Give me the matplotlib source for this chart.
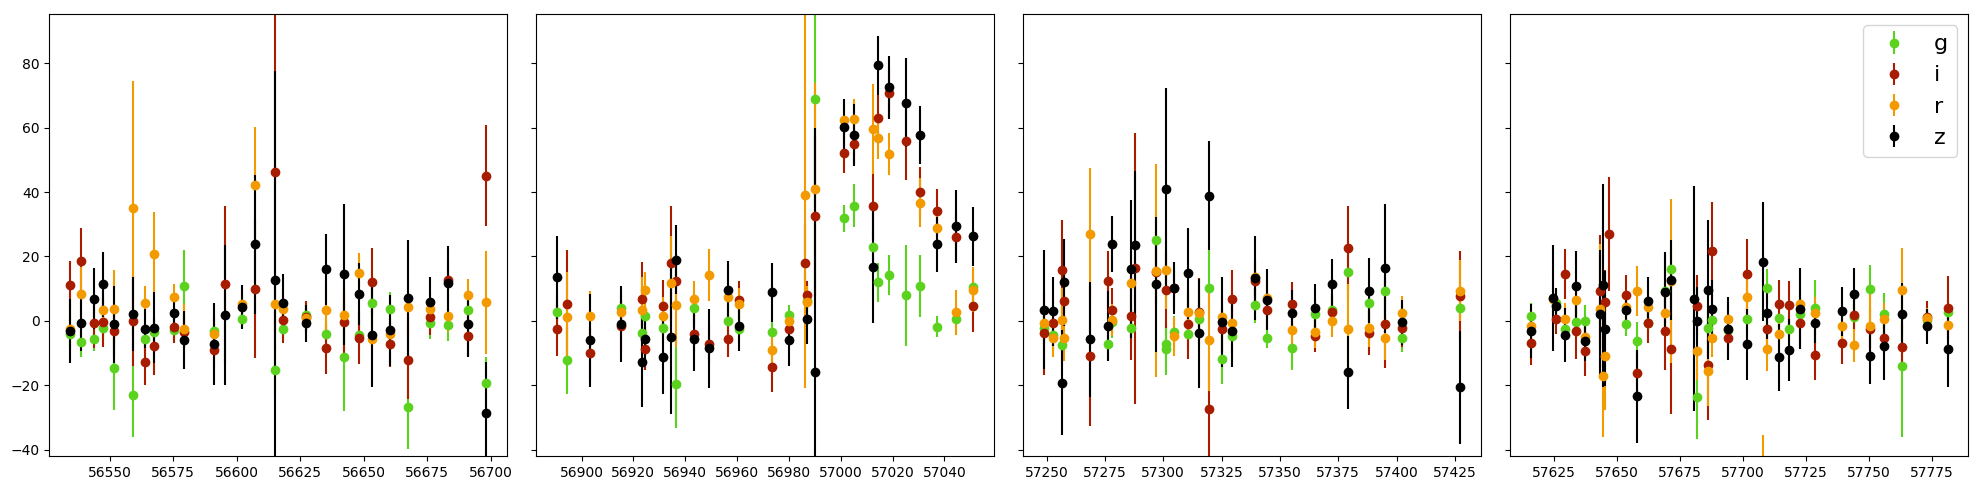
import matplotlib
matplotlib.use("Agg")
import matplotlib.pyplot as plt
import numpy as np

bands = ["g", "i", "r", "z"]
colors = {"g": "#5ad21e", "i": "#a81c00", "r": "#f39a00", "z": "#000000"}

# ---------------- g band ----------------
g_mjd = [56534.5, 56538.9, 56543.7, 56547.6, 56551.6, 56559.4, 56563.8, 56567.7, 56575.4, 56579.4,
         56591.3, 56602.2, 56615.1, 56618.4, 56627.3, 56635.2, 56642.2, 56648.2, 56653.4, 56660.4,
         56667.3, 56676.1, 56683.3, 56691.2, 56698.3,
         56890.6, 56894.3, 56915.2, 56923.5, 56924.6, 56931.6, 56936.5, 56943.5, 56956.4, 56960.6,
         56973.3, 56980.1, 56987.1, 56990.1, 57001.3, 57005.3, 57012.3, 57014.2, 57018.5, 57025.3,
         57030.5, 57037.3, 57044.3, 57051.2,
         57249.0, 57252.8, 57256.6, 57276.5, 57278.2, 57286.2, 57296.8, 57301.0, 57301.3, 57304.6,
         57310.5, 57315.3, 57319.6, 57325.3, 57329.6, 57339.3, 57344.5, 57355.2, 57365.1, 57372.4,
         57379.3, 57388.3, 57395.2, 57402.5, 57427.4,
         57616.0, 57625.9, 57629.5, 57633.9, 57637.4, 57653.4, 57657.8, 57662.4, 57669.2, 57671.6,
         57681.6, 57686.2, 57687.6, 57694.2, 57701.5, 57709.4, 57714.4, 57718.4, 57722.4, 57728.4,
         57744.2, 57750.3, 57756.1, 57763.2, 57773.1, 57781.1]
g_flux = [-4.2, -6.7, -5.8, -2.1, -14.8, -23.2, -5.8, -3.4, -3.0, 10.7,
          -3.2, 0.7, -15.4, -2.7, 1.8, -4.2, -11.4, -4.5, 5.4, 3.8,
          -26.8, -0.8, -1.3, 3.5, -19.2,
          2.7, -12.3, 4.0, -3.9, 1.4, -2.1, -19.5, 4.1, -0.2, -2.7,
          -3.6, 1.8, 6.1, 68.8, 31.8, 35.8, 22.8, 11.9, 14.2, 7.9,
          10.7, -1.8, 0.4, 10.6,
          -2.1, -4.5, -7.6, -7.2, -0.3, -2.1, 25.1, -7.2, -8.9, -3.4,
          -4.1, 0.4, 10.1, -12.0, -4.8, 4.8, -5.2, -8.3, 2.2, 3.3,
          15.0, 5.4, 9.1, -5.2, 4.1,
          1.4, 5.4, -2.6, -0.5, -0.1, -1.0, -6.3, -0.8, 9.3, 16.0,
          -23.8, -2.1, 0.2, -2.9, 0.4, 10.2, 1.0, -2.4, 2.1, 4.1,
          1.1, 9.8, 2.2, -14.2, 0.2, 2.6]
g_err = [5, 4.5, 3.5, 4, 13, 13, 5, 4, 4, 11.2,
         5, 3, 8, 4, 4, 5, 16.5, 5, 6, 5,
         13, 5, 5, 4, 8,
         6, 10.4, 5, 6, 5, 5, 13.7, 5, 5, 4,
         4, 3, 5, 30, 4.3, 6.8, 5, 6, 6.2, 15.7,
         9.6, 3.3, 4, 5,
         5, 5, 6, 5, 5, 5, 8, 5, 8, 5,
         5, 5, 12, 7.5, 5, 5.6, 3.4, 7, 5, 5,
         8, 5, 6, 4.5, 5,
         4, 4, 4, 5, 5, 3.7, 6, 4, 10, 6,
         12.8, 5, 5, 4, 4, 6, 4, 4, 4, 8.5,
         4, 7.4, 6.3, 22, 3, 4]

# ---------------- i band ----------------
i_mjd = [56534.5, 56538.9, 56543.7, 56547.6, 56551.6, 56559.4, 56563.8, 56567.7, 56575.4, 56579.4,
         56591.3, 56595.6, 56607.4, 56615.1, 56618.4, 56627.3, 56635.2, 56642.2, 56648.2, 56653.4,
         56660.4, 56667.3, 56676.1, 56683.3, 56691.2, 56698.3,
         56890.6, 56894.3, 56903.4, 56915.2, 56923.5, 56924.6, 56931.6, 56934.6, 56936.5, 56943.5,
         56949.3, 56956.4, 56960.6, 56973.3, 56980.1, 56986.2, 56987.1, 56990.1, 57001.3, 57005.3,
         57012.3, 57014.2, 57018.5, 57025.3, 57030.5, 57037.3, 57044.3, 57051.2,
         57249.0, 57252.8, 57256.6, 57257.3, 57268.5, 57276.5, 57278.2, 57286.2, 57288.0, 57296.8,
         57301.0, 57304.6, 57310.5, 57315.3, 57319.6, 57325.3, 57329.6, 57339.3, 57344.5, 57355.2,
         57365.1, 57372.4, 57379.3, 57388.3, 57395.2, 57402.5, 57427.4,
         57616.0, 57625.9, 57629.5, 57633.9, 57637.4, 57643.4, 57645.4, 57646.7, 57653.4, 57657.8,
         57662.4, 57669.2, 57671.6, 57681.6, 57686.2, 57687.6, 57694.2, 57701.5, 57709.4, 57714.4,
         57718.4, 57722.4, 57728.4, 57739.2, 57744.2, 57750.3, 57756.1, 57763.2, 57773.1, 57781.1]
i_flux = [11.1, 18.7, -0.8, -0.5, -3.1, 0.0, -12.9, -7.7, -2.0, -3.6,
          -9.0, 11.3, 10.0, 46.1, 0.2, 1.2, -8.6, -0.5, -5.3, 11.9,
          -7.3, -12.3, 1.1, 12.6, -4.8, 45.1,
          -2.7, 5.1, -10.1, -1.7, 6.7, -8.8, 4.6, 17.8, 12.3, -4.1,
          -7.2, -5.8, 6.4, -14.5, -2.6, 18.1, 8.0, 32.4, 52.0, 54.8,
          35.8, 63.1, 70.9, 55.7, 39.9, 34.0, 25.9, 4.5,
          -3.9, -0.8, 15.7, 6.3, -10.8, 12.5, 3.2, 1.4, 16.3, 15.2,
          9.7, 10.2, -1.0, 2.8, -27.5, -2.7, 6.9, 12.3, 3.5, 5.1,
          -4.8, 2.6, 22.5, -3.9, -1.0, -2.1, 7.7,
          -7.0, 0.7, 14.5, -3.3, -9.4, 9.2, 5.7, 26.9, 8.0, -16.3,
          -0.8, -3.2, -8.9, 4.6, -13.8, 21.8, -5.5, 14.5, -2.7, 5.2,
          4.9, -0.8, -10.5, -7.0, 1.8, -2.4, -5.2, -8.1, 1.1, 4.1]
i_err = [7.4, 10, 7.5, 7.5, 8, 14, 7, 9, 5, 5,
         6, 24.3, 21.5, 55, 7, 5, 7.8, 10, 8, 10.6,
         7, 12, 5.5, 6, 6, 15.6,
         8.3, 17, 8, 8, 11.5, 6.5, 8, 18, 8, 6,
         6, 5.4, 6, 7.6, 4, 12, 4.5, 25, 6, 6,
         10, 7, 8, 12, 8, 7, 8, 8,
         13, 7, 15.5, 8, 22, 9.2, 7, 13.7, 42, 10,
         12, 6, 11, 10.6, 16, 7, 9, 6, 6, 6.8,
         5, 5, 13, 6.8, 13.6, 6, 14,
         6.7, 4.7, 7.7, 8.5, 7.8, 17.4, 10, 17.8, 6.3, 6,
         6, 12, 20, 9.6, 17, 15, 6, 10.8, 6, 7.4,
         7.4, 7.8, 7.8, 6.5, 5, 6, 5, 7, 5, 9.7]

# ---------------- r band ----------------
r_mjd = [56534.5, 56538.9, 56547.6, 56551.6, 56559.4, 56563.8, 56567.7, 56575.4, 56579.4, 56591.3,
         56602.2, 56607.4, 56615.1, 56618.4, 56627.3, 56635.2, 56642.2, 56648.2, 56653.4, 56660.4,
         56667.3, 56676.1, 56683.3, 56691.2, 56698.3,
         56894.3, 56903.4, 56915.2, 56923.5, 56924.6, 56931.6, 56934.6, 56936.5, 56943.5, 56949.3,
         56956.4, 56960.6, 56973.3, 56980.1, 56986.2, 56987.1, 56990.1, 57001.3, 57005.3, 57012.3,
         57014.2, 57018.5, 57030.5, 57037.3, 57044.3, 57051.2,
         57249.0, 57252.8, 57256.6, 57257.3, 57268.5, 57278.2, 57286.2, 57296.8, 57301.0, 57304.6,
         57310.5, 57315.3, 57319.6, 57325.3, 57329.6, 57339.3, 57344.5, 57355.2, 57365.1, 57372.4,
         57379.3, 57388.3, 57395.2, 57402.5, 57427.4,
         57616.0, 57624.8, 57629.5, 57633.9, 57637.4, 57643.4, 57644.3, 57645.4, 57653.4, 57657.8,
         57662.4, 57669.2, 57671.6, 57681.6, 57686.2, 57687.6, 57694.2, 57701.5, 57708.1, 57709.4,
         57714.4, 57722.4, 57728.4, 57739.2, 57744.2, 57750.3, 57756.1, 57763.2, 57773.1, 57781.1]
r_flux = [-2.6, 8.2, 3.2, 3.8, 34.9, 5.4, 20.9, 7.3, -2.7, -4.2,
          5.2, 42.3, 5.1, 3.8, 0.9, 3.2, 1.8, 14.7, -5.8, -4.2,
          4.2, 3.8, 1.4, 7.9, 5.8,
          1.1, 1.4, 2.7, 3.5, 9.5, 1.4, 11.6, 4.9, 6.7, 14.2,
          7.3, 5.1, -9.2, -0.1, 39.0, 5.7, 40.8, 62.3, 62.8, 59.7,
          56.9, 51.7, 36.7, 28.7, 2.6, 9.7,
          -0.8, -5.4, 0.2, -5.5, 27.1, 0.2, 11.6, 15.6, 15.7, -4.8,
          2.6, 2.3, -6.0, 1.2, -0.8, 13.6, 7.1, -3.0, -3.6, -0.2,
          -2.7, -2.1, -5.2, 2.3, 9.4,
          -1.6, 6.7, 0.4, 6.6, -5.0, 3.8, -17.2, -11.0, 4.4, 9.2,
          4.2, 2.3, 12.3, -9.5, -15.6, -5.2, 0.4, 7.3, -50.0, -8.8,
          -4.1, 5.2, 2.3, -1.7, -7.6, -1.6, 0.4, 9.7, 0.9, -1.3]
r_err = [6, 8.6, 5, 12, 39.5, 5.4, 12.8, 4, 8, 5,
         3, 18, 8, 6, 4, 8, 8, 6.5, 6, 5,
         8, 5, 5, 5, 16,
         14, 8, 5, 10, 5.6, 6, 14.8, 13, 5.6, 8,
         6, 5, 5, 3, 60, 5, 33, 6, 6, 14,
         6.7, 6.5, 7.6, 5, 7, 7,
         6, 6, 10, 7, 20.4, 5, 10, 33, 12, 6,
         6, 6, 15.7, 6, 5, 6, 6, 5, 5, 4.8,
         14, 6, 7, 5.4, 9.4,
         4, 7, 5, 6, 5, 20, 18.8, 16.7, 5, 7.7,
         5, 6, 25.5, 9, 11, 6, 5, 6, 14.5, 6.7,
         5, 4, 5, 4, 5.2, 10, 5, 13, 3, 5]

# ---------------- z band ----------------
z_mjd = [56534.5, 56538.9, 56543.7, 56547.6, 56551.6, 56559.4, 56563.8, 56567.7, 56575.4, 56579.4,
         56591.3, 56595.6, 56602.2, 56607.4, 56615.1, 56618.4, 56627.3, 56635.2, 56642.2, 56648.2,
         56653.4, 56660.4, 56667.3, 56676.1, 56683.3, 56691.2, 56698.3,
         56890.6, 56903.4, 56915.2, 56923.5, 56924.6, 56931.6, 56934.6, 56936.5, 56943.5, 56949.3,
         56956.4, 56960.6, 56973.3, 56980.1, 56987.1, 56990.1, 57001.3, 57005.3, 57012.3, 57014.2,
         57018.5, 57025.3, 57030.5, 57037.3, 57044.3, 57051.2,
         57249.0, 57252.8, 57256.6, 57257.3, 57268.5, 57276.5, 57278.2, 57286.2, 57288.0, 57296.8,
         57301.0, 57304.6, 57310.5, 57315.3, 57319.6, 57325.3, 57329.6, 57339.3, 57344.5, 57355.2,
         57365.1, 57372.4, 57379.3, 57388.3, 57395.2, 57402.5, 57427.4,
         57616.0, 57624.8, 57625.9, 57629.5, 57633.9, 57637.4, 57643.4, 57644.3, 57645.4, 57653.4,
         57657.8, 57662.4, 57669.2, 57671.6, 57680.4, 57681.6, 57686.2, 57687.6, 57694.2, 57701.5,
         57708.1, 57709.4, 57714.4, 57718.4, 57722.4, 57728.4, 57739.2, 57744.2, 57750.3, 57756.1,
         57763.2, 57773.1, 57781.1]
z_flux = [-3.2, -0.8, 6.9, 11.3, -1.1, 2.0, -2.4, -2.1, 2.3, -6.1,
          -7.3, 1.8, 4.3, 23.7, 12.6, 5.4, -0.8, 16.0, 14.4, 8.2,
          -4.5, -2.9, 7.2, 5.7, 11.6, -1.1, -28.8,
          13.5, -6.1, -1.0, -12.9, -5.8, -11.1, -5.1, 19.0, -5.8, -8.6,
          9.7, -1.6, 8.8, -6.0, 0.7, -16.0, 60.3, 57.7, 16.6, 79.3,
          72.5, 67.8, 57.7, 23.7, 29.3, 26.2,
          3.5, 3.0, -19.2, 11.9, -5.8, -1.7, 23.7, 16.0, 23.4, 11.3,
          40.8, 10.2, 14.7, -3.9, 38.9, -0.5, -3.3, 13.3, 6.6, 2.5,
          4.1, 11.3, -16.0, 9.4, 16.3, -0.5, -20.7,
          -3.2, 7.0, 4.7, -4.5, 10.8, -6.4, 2.1, 11.0, -2.4, 3.3,
          -23.5, 6.1, 8.9, 12.6, 6.9, 0.0, 9.7, 3.7, -2.4, -7.3,
          18.4, 2.3, -11.3, -9.1, 3.8, -0.8, 2.9, 8.3, -10.8, -7.9,
          2.0, -1.7, -8.9]
z_err = [10, 8.5, 9.5, 10, 12, 11.5, 6, 11, 5, 9,
         12.8, 21.7, 6.8, 21.7, 65, 9, 5.7, 11, 22, 9.6,
         16, 11, 18, 7.9, 11.6, 10, 16,
         12.8, 14.4, 11.8, 13.8, 6, 11.6, 24, 10.7, 9.7, 12.3,
         8.8, 7.8, 9.3, 8, 8, 76, 8.5, 9.7, 17.4, 9.1,
         9.8, 13.8, 9.1, 8.5, 11.4, 9.1,
         18.4, 10.7, 16.3, 13.5, 18, 10.8, 8.7, 21.5, 23, 21,
         31.5, 8, 14, 17, 16.9, 14, 11, 13, 9.6, 7,
         7.3, 8, 11.4, 10.2, 20, 7, 17.6,
         8.4, 16.5, 5.6, 8.4, 11, 6, 20, 31.5, 18, 5,
         14.5, 7.5, 12.5, 12.4, 35, 10.5, 21.5, 9, 9.7, 11,
         18.6, 8, 10.4, 9.5, 12.5, 6, 7.5, 8, 8.7, 10.4,
         9.8, 5.4, 11.6]

season_edges = [(56500, 56800), (56800, 57150), (57150, 57500), (57500, 57900)]

data = {
    "g": (g_mjd, g_flux, g_err),
    "i": (i_mjd, i_flux, i_err),
    "r": (r_mjd, r_flux, r_err),
    "z": (z_mjd, z_flux, z_err),
}

fig, axes = plt.subplots(1, 4, figsize=(19.81, 4.9), dpi=100, sharey=True)
fig.subplots_adjust(left=0.0249, right=0.9936, bottom=0.0694, top=0.9708, wspace=0.0638)

for ax, (lo, hi) in zip(axes, season_edges):
    for b in bands:
        m, f, e = (np.asarray(a, dtype=float) for a in data[b])
        sel = (m >= lo) & (m < hi)
        ax.errorbar(m[sel], f[sel], yerr=e[sel], fmt="o", color=colors[b], label=b)

axes[0].set_ylim(-42.0, 95.2)
axes[-1].legend(fontsize=16, loc="upper right")

fig.savefig("out.png", dpi=100)
